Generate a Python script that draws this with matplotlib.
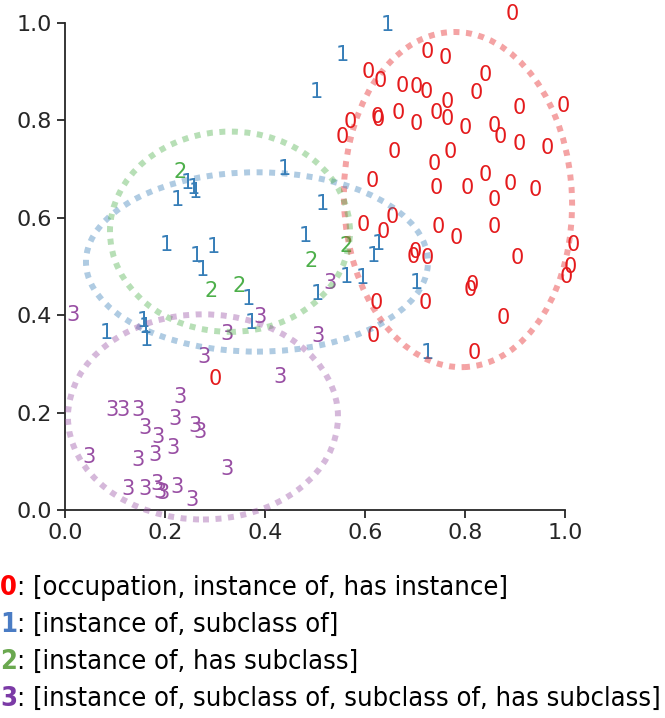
import matplotlib
matplotlib.use("Agg")
import matplotlib.pyplot as plt
from matplotlib.patches import Ellipse

# cluster members (x, y)
x0 = [0.894, 0.724, 0.760, 0.606, 0.630, 0.674, 0.702, 0.722, 0.840, 0.822,
      0.764, 0.570, 0.554, 0.624, 0.626, 0.666, 0.702, 0.742, 0.764, 0.800,
      0.858, 0.870, 0.908, 0.996, 0.908, 0.964, 0.658, 0.770, 0.738, 0.840,
      0.614, 0.742, 0.804, 0.890, 0.940, 0.858, 0.596, 0.654, 0.636, 0.746,
      0.782, 0.858, 1.016, 0.700, 0.696, 0.724, 0.904, 1.010, 1.002, 0.814,
      0.810, 0.622, 0.720, 0.876, 0.616, 0.818, 0.300]
y0 = [1.018, 0.940, 0.928, 0.899, 0.881, 0.871, 0.869, 0.858, 0.893, 0.856,
      0.838, 0.797, 0.766, 0.807, 0.801, 0.815, 0.793, 0.815, 0.803, 0.784,
      0.789, 0.766, 0.825, 0.830, 0.752, 0.743, 0.735, 0.735, 0.710, 0.688,
      0.676, 0.661, 0.661, 0.669, 0.657, 0.637, 0.585, 0.602, 0.571, 0.581,
      0.559, 0.581, 0.544, 0.530, 0.520, 0.517, 0.517, 0.499, 0.478, 0.462,
      0.452, 0.425, 0.425, 0.394, 0.357, 0.322, 0.269]

x1 = [0.644, 0.554, 0.502, 0.438, 0.244, 0.256, 0.260, 0.224, 0.514, 0.480,
      0.202, 0.296, 0.262, 0.274, 0.366, 0.504, 0.562, 0.594, 0.626, 0.616,
      0.702, 0.724, 0.082, 0.156, 0.160, 0.162, 0.372]
y1 = [0.996, 0.934, 0.858, 0.700, 0.671, 0.661, 0.653, 0.637, 0.628, 0.563,
      0.544, 0.540, 0.522, 0.493, 0.433, 0.444, 0.478, 0.476, 0.546, 0.522,
      0.466, 0.322, 0.363, 0.388, 0.376, 0.349, 0.384]

x2 = [0.230, 0.292, 0.348, 0.492, 0.562]
y2 = [0.694, 0.450, 0.460, 0.511, 0.542]

x3 = [0.016, 0.126, 0.160, 0.184, 0.190, 0.196, 0.224, 0.254, 0.324, 0.048,
      0.146, 0.180, 0.216, 0.186, 0.160, 0.220, 0.260, 0.270, 0.094, 0.116,
      0.146, 0.230, 0.278, 0.324, 0.430, 0.506, 0.390, 0.530]
y3 = [0.400, 0.043, 0.043, 0.053, 0.037, 0.035, 0.047, 0.021, 0.084, 0.109,
      0.103, 0.113, 0.127, 0.150, 0.168, 0.187, 0.172, 0.160, 0.205, 0.205,
      0.205, 0.232, 0.314, 0.361, 0.273, 0.357, 0.396, 0.466]

# ellipse per cluster: center x, center y, width, height, angle
ell_cx = [0.786, 0.384, 0.330, 0.276]
ell_cy = [0.637, 0.509, 0.571, 0.191]
ell_w = [0.456, 0.684, 0.480, 0.540]
ell_h = [0.688, 0.368, 0.411, 0.421]
ell_ang = [2, 0, 0, 0]

labels = ["[occupation, instance of, has instance]",
          "[instance of, subclass of]",
          "[instance of, has subclass]",
          "[instance of, subclass of, subclass of, has subclass]"]
colors = ["#e41a1c", "#377eb8", "#4daf4a", "#984ea3"]
key_colors = ["#ff0000", "#4a7cc4", "#6aa84f", "#7b3aa6"]

xs = [x0, x1, x2, x3]
ys = [y0, y1, y2, y3]

fig = plt.figure(figsize=(6.65, 7.18), dpi=100)
ax = fig.add_axes([0.0977, 0.2897, 0.7519, 0.6787])

for k in range(4):
    for xv, yv in zip(xs[k], ys[k]):
        ax.text(xv, yv, str(k), color=colors[k], fontsize=15,
                ha="center", va="center", zorder=2)
    e = Ellipse((ell_cx[k], ell_cy[k]), ell_w[k], ell_h[k], angle=ell_ang[k],
                fill=False, edgecolor=colors[k], alpha=0.4, lw=4.3,
                linestyle=(0, (1, 1.1)), clip_on=False, zorder=3)
    ax.add_patch(e)

ax.set_xlim(0, 1)
ax.set_ylim(0, 1)
ax.set_xticks([0, 0.2, 0.4, 0.6, 0.8, 1.0])
ax.set_yticks([0, 0.2, 0.4, 0.6, 0.8, 1.0])
ax.spines["top"].set_visible(False)
ax.spines["right"].set_visible(False)
for s in ["left", "bottom"]:
    ax.spines[s].set_linewidth(1.3)
    ax.spines[s].set_color("#262626")
ax.tick_params(labelsize=16, length=6, width=1.3, color="#262626",
               labelcolor="#262626")

# legend below the axes
for k in range(4):
    yy = 1 - (588 + k * 37) / 718
    t = fig.text(0.0, yy, str(k), color=key_colors[k], fontsize=19.5,
                 fontweight="bold", fontstretch="condensed", va="center")
    ax.annotate(": " + labels[k], xy=(1, 0), xycoords=t, va="bottom",
                fontsize=19.5, fontstretch="condensed", color="black",
                annotation_clip=False)

fig.savefig("out.png", dpi=100)
